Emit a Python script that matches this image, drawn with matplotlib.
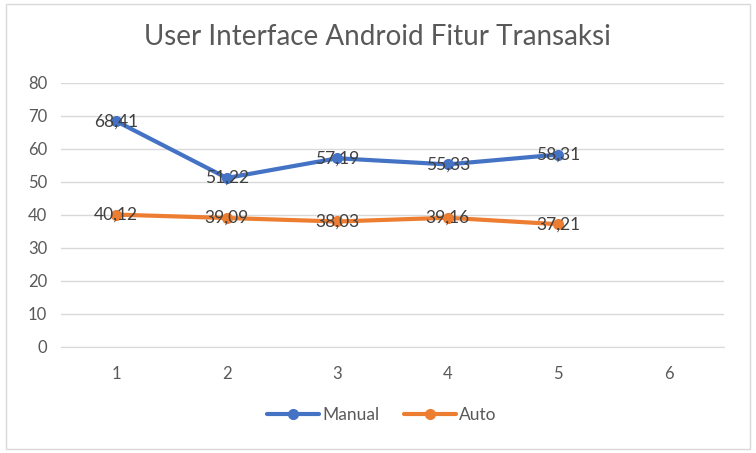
import matplotlib.pyplot as plt
from matplotlib.patches import Rectangle

plt.rcParams['font.family'] = ['Lato', 'DejaVu Sans']

categories = [1, 2, 3, 4, 5]
manual = [68.41, 51.22, 57.19, 55.33, 58.31]
auto = [40.12, 39.09, 38.03, 39.16, 37.21]
xticks = [1, 2, 3, 4, 5, 6]
yticks = [0, 10, 20, 30, 40, 50, 60, 70, 80]

fig = plt.figure(figsize=(7.56, 4.53), dpi=100)
ax = fig.add_axes([0.0807, 0.234, 0.877, 0.5828])

# chart border
fig.patches.append(Rectangle((0.008, 0.008), 0.984, 0.984, transform=fig.transFigure,
                             fill=False, edgecolor='#d9d9d9', linewidth=1))

ax.plot(categories, manual, color='#4472C4', linewidth=3, marker='o', markersize=7,
        label='Manual', solid_capstyle='round', zorder=3)
ax.plot(categories, auto, color='#ED7D31', linewidth=3, marker='o', markersize=7,
        label='Auto', solid_capstyle='round', zorder=3)

for series in (manual, auto):
    for x, v in zip(categories, series):
        ax.text(x, v, f'{v:.2f}'.replace('.', ','), ha='center', va='center',
                fontsize=12.5, color='#404040', zorder=4)

ax.set_xlim(0.5, 6.5)
ax.set_ylim(0, 80)
ax.set_xticks(xticks)
ax.set_yticks(yticks)
ax.tick_params(axis='both', length=0, labelsize=12, labelcolor='#595959')
ax.tick_params(axis='x', pad=14)
ax.tick_params(axis='y', pad=10)
ax.grid(axis='y', color='#d9d9d9', linewidth=1)
ax.set_axisbelow(True)
for side in ('top', 'right', 'left'):
    ax.spines[side].set_visible(False)
ax.spines['bottom'].set_color('#d9d9d9')

fig.suptitle('User Interface Android Fitur Transaksi', x=0.499, y=0.918, va='center',
             fontsize=20, color='#595959')

fig.legend(loc='center', bbox_to_anchor=(0.505, 0.083), ncol=2, frameon=False,
           fontsize=12.5, labelcolor='#595959', handlelength=3, columnspacing=1.4,
           handletextpad=0.2)

fig.savefig('out.png', dpi=100)
